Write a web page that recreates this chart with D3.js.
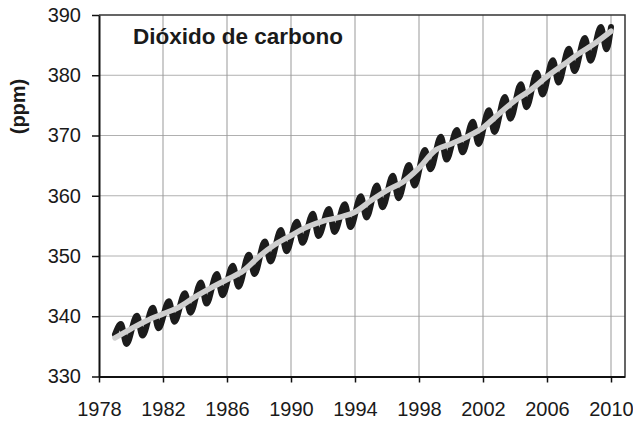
<!DOCTYPE html>
<html>
<head>
<meta charset="utf-8">
<script src="https://cdn.jsdelivr.net/npm/d3@7"></script>
<style>
    body { margin: 0; background: #fff; }
    #chart { width: 633px; height: 423px; }
    text { font-family: "Liberation Sans", Arial, sans-serif; fill: #1a1a1a; }
</style>
</head>
<body>
<div id="chart"></div>
<script>
// tick labels
var tickYears = [1978, 1982, 1986, 1990, 1994, 1998, 2002, 2006, 2010];
var tickPpm = [330, 340, 350, 360, 370, 380, 390];

// smoothed trend (grey), value at start of each year
var trendYears = [1979, 1980, 1981, 1982, 1983, 1984, 1985, 1986, 1987, 1988, 1989,
    1990, 1991, 1992, 1993, 1994, 1995, 1996, 1997, 1998, 1999,
    2000, 2001, 2002, 2003, 2004, 2005, 2006, 2007, 2008, 2009, 2010];
var trendPpm = [336.4, 337.9, 339.3, 340.4, 341.5, 343.2, 344.7, 346.1, 347.5, 349.9, 351.9,
    353.4, 354.8, 355.8, 356.4, 357.3, 359.2, 360.9, 362.3, 364.6, 367.5,
    368.6, 369.8, 371.3, 373.6, 375.8, 377.6, 379.8, 381.7, 383.6, 385.3, 387.3];

// seasonal cycle (black): yearly maximum (~May) and minimum (~Sept)
var cycleYears = [1979, 1980, 1981, 1982, 1983, 1984, 1985, 1986, 1987, 1988,
    1989, 1990, 1991, 1992, 1993, 1994, 1995, 1996, 1997, 1998,
    1999, 2000, 2001, 2002, 2003, 2004, 2005, 2006, 2007, 2008, 2009];
var peakPpm = [338.7, 340.1, 341.4, 342.5, 343.8, 345.6, 347.0, 348.4, 350.2, 352.4,
    354.3, 355.7, 357.0, 357.8, 358.6, 359.9, 361.7, 363.3, 365.1, 367.6,
    369.8, 370.9, 372.3, 374.2, 376.4, 378.5, 380.4, 382.5, 384.4, 386.2, 388.0];
var troughPpm = [335.4, 336.8, 338.0, 339.1, 340.6, 342.1, 343.5, 344.9, 347.0, 349.1,
    350.8, 352.2, 353.3, 354.0, 354.8, 356.4, 358.1, 359.6, 361.7, 364.4,
    366.0, 367.2, 368.6, 370.6, 372.8, 374.7, 376.8, 378.8, 380.7, 382.4, 384.3];
var firstPpm = 337.0;   // Jan 1979
var lastPpm = 388.0;    // Jan 2010
var peakMonth = 4.4, troughMonth = 8.6;

function renderCO2Chart(div_id) {
    var renderDiv = document.getElementById(div_id);
    renderDiv.innerHTML = "";
    var margin = { top: 15, right: 8, bottom: 46.5, left: 99 },
        width = 633 - margin.left - margin.right,
        height = 423 - margin.top - margin.bottom;

    var x = d3.scaleLinear().domain([1978, 2010.875]).range([0, width]);
    var y = d3.scaleLinear().domain([330, 390]).range([height, 0]);

    var svg = d3.select(renderDiv).append("svg")
        .attr("width", 633)
        .attr("height", 423)
        .append("g")
        .attr("transform", "translate(" + margin.left + "," + margin.top + ")");

    // grid
    svg.selectAll("line.hgrid")
        .data(tickPpm.filter(function (d) { return d > 330 && d < 390; }))
        .enter().append("line")
        .attr("class", "hgrid")
        .attr("x1", 0).attr("x2", width)
        .attr("y1", function (d) { return y(d); })
        .attr("y2", function (d) { return y(d); })
        .style("stroke", "#b0b0b0")
        .style("stroke-width", 1);

    svg.selectAll("line.vgrid")
        .data(tickYears.filter(function (d) { return d > 1978; }))
        .enter().append("line")
        .attr("class", "vgrid")
        .attr("y1", 0).attr("y2", height)
        .attr("x1", function (d) { return x(d); })
        .attr("x2", function (d) { return x(d); })
        .style("stroke", "#999")
        .style("stroke-width", 1);

    // frame top / right
    svg.append("path")
        .attr("d", "M0,0H" + width + "V" + height)
        .style("fill", "none")
        .style("stroke", "#333")
        .style("stroke-width", 1.5);

    // seasonal series
    var cycle = [{ t: 1979, v: firstPpm }];
    cycleYears.forEach(function (yr, i) {
        cycle.push({ t: yr + peakMonth / 12, v: peakPpm[i] });
        cycle.push({ t: yr + troughMonth / 12, v: troughPpm[i] });
    });
    cycle.push({ t: 2010, v: lastPpm });

    var line = d3.line()
        .curve(d3.curveMonotoneX)
        .x(function (d) { return x(d.t); })
        .y(function (d) { return y(d.v); });

    svg.append("path")
        .datum(cycle)
        .attr("class", "line")
        .style("fill", "none")
        .style("stroke", "#1c1c1c")
        .style("stroke-width", 6)
        .style("stroke-linejoin", "round")
        .style("stroke-linecap", "round")
        .attr("d", line);

    var trend = trendYears.map(function (yr, i) { return { t: yr, v: trendPpm[i] }; });
    svg.append("path")
        .datum(trend)
        .attr("class", "trend")
        .style("fill", "none")
        .style("stroke", "#cfcfcf")
        .style("stroke-width", 5.5)
        .style("stroke-linecap", "round")
        .attr("d", line);

    // axes
    var xAxis = svg.append("g")
        .attr("transform", "translate(0," + height + ")")
        .call(d3.axisBottom(x).tickValues(tickYears).tickFormat(d3.format("d"))
            .tickSize(6).tickSizeOuter(0).tickPadding(19));
    var yAxis = svg.append("g")
        .call(d3.axisLeft(y).tickValues(tickPpm)
            .tickSize(7).tickSizeOuter(0).tickPadding(11));

    [xAxis, yAxis].forEach(function (g) {
        g.select(".domain").style("stroke", "#111").style("stroke-width", 2);
        g.selectAll(".tick line").style("stroke", "#111").style("stroke-width", 1.5);
        g.selectAll(".tick text")
            .style("font-size", "20px")
            .style("font-family", "'Liberation Sans', Arial, sans-serif")
            .style("fill", "#1a1a1a");
    });

    // labels
    svg.append("text")
        .attr("transform", "translate(" + (25 - margin.left) + "," + (106.5 - margin.top) + ") rotate(-90)")
        .attr("text-anchor", "middle")
        .style("font-size", "20px")
        .style("font-weight", "bold")
        .text("(ppm)");

    svg.append("text")
        .attr("x", 133 - margin.left)
        .attr("y", 44 - margin.top)
        .style("font-size", "22.5px")
        .style("font-weight", "bold")
        .text("Dióxido de carbono");
}

renderCO2Chart("chart");
</script>
</body>
</html>
